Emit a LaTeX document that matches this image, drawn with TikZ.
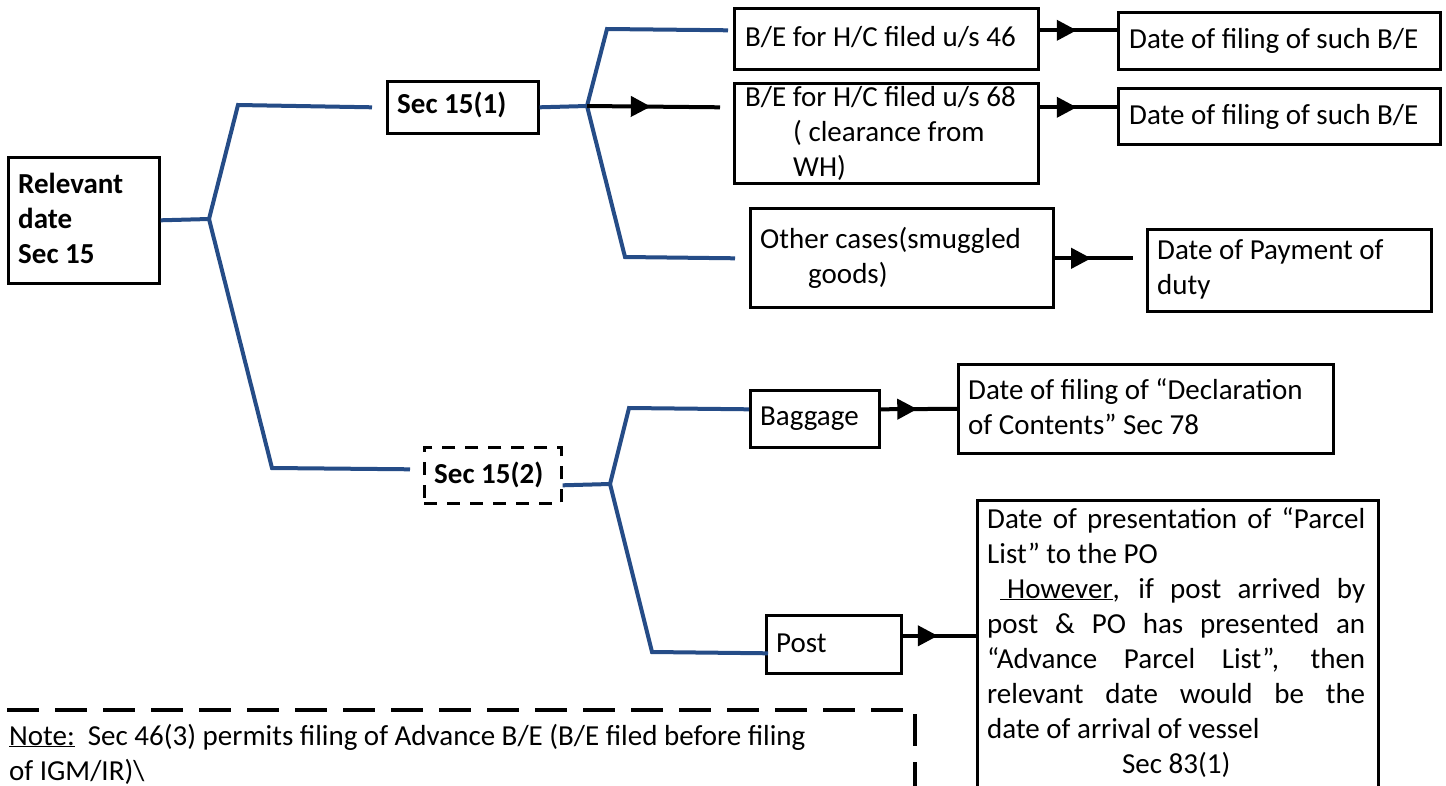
\documentclass[tikz,border=0pt]{standalone}
\usepackage{fontspec}
\setmainfont{Carlito}
\usetikzlibrary{calc,arrows.meta,decorations.markings}
\definecolor{linkblue}{RGB}{37,76,135}

\tikzset{
  box/.style={draw=black, line width=2.6pt, anchor=north west, inner sep=0pt},
  dashbox/.style={box, dash pattern=on 13pt off 10pt},
  txt/.style={anchor=base west, inner sep=0pt, font=\fontsize{29}{35}\selectfont},
  btxt/.style={txt, font=\fontsize{29}{35}\selectfont\bfseries},
  link/.style={draw=linkblue, line width=4pt},
  arr/.style={draw=black, line width=4pt,
    decoration={markings, mark=at position 0.48 with {\arrow{Triangle[length=20pt,width=20pt]}}},
    postaction={decorate}},
  notedash/.style={draw=black, line width=4.5pt, dash pattern=on 32pt off 16pt}
}

\begin{document}
\begin{tikzpicture}[x=1pt,y=-1pt]
\clip (0,0) rectangle (1446,785);
\fill[white] (0,0) rectangle (1446,785);

% boxes
\node[box, minimum width=151pt, minimum height=126pt] (rel) at (7,156) {};
\node[box, minimum width=151pt, minimum height=52pt] (s1) at (386,80) {};
\node[box, minimum width=304pt, minimum height=61pt] (be46) at (733,7) {};
\node[box, minimum width=304pt, minimum height=100pt] (be68) at (733,82) {};
\node[box, minimum width=303pt, minimum height=99pt] (oth) at (749,207) {};
\node[box, minimum width=322pt, minimum height=57pt] (d1) at (1117,11) {};
\node[box, minimum width=322pt, minimum height=56pt] (d2) at (1117,87) {};
\node[box, minimum width=284pt, minimum height=82pt] (pay) at (1146,228) {};
\node[dashbox, minimum width=137pt, minimum height=56pt] (s2) at (423,446) {};
\node[box, minimum width=129pt, minimum height=57pt] (bag) at (749,389) {};
\node[box, minimum width=375pt, minimum height=89pt] (decl) at (957,363) {};
\node[box, minimum width=135pt, minimum height=58pt] (post) at (765,614) {};
\node[box, minimum width=401pt, minimum height=320pt] (parcel) at (976,499) {};

% box texts
\node[btxt] (rel-t) at (18,193) {\parbox[t]{135pt}{Relevant\\date\\Sec 15}};
\node[btxt] (s1-t) at (397,113) {Sec 15(1)};
\node[txt] (be46-t) at (745,46) {B/E for H/C filed u/s 46};
\node[txt] (be68-t) at (745,106) {\parbox[t]{290pt}{B/E for H/C filed u/s 68\\\hspace*{48pt}( clearance from\\\hspace*{48pt}WH)}};
\node[txt] (oth-t) at (760,248) {\parbox[t]{290pt}{Other cases(smuggled\\\hspace*{48pt}goods)}};
\node[txt] (d1-t) at (1129,48) {Date of filing of such B/E};
\node[txt] (d2-t) at (1129,124) {Date of filing of such B/E};
\node[txt] (pay-t) at (1157,259) {\parbox[t]{265pt}{Date of Payment of\\duty}};
\node[btxt] (s2-t) at (434,483) {Sec 15(2)};
\node[txt] (bag-t) at (760,425) {Baggage};
\node[txt] (decl-t) at (968,399) {\parbox[t]{360pt}{Date of filing of “Declaration\\of Contents” Sec 78}};
\node[txt] (post-t) at (776,652) {Post};
\node[txt] (parcel-t) at (987,528) {\parbox[t]{378pt}{%
  \makebox[378pt][s]{Date of presentation of “Parcel}\\
  List” to the PO\\
  \makebox[378pt][s]{\hspace*{13pt}\underline{\hspace{7pt}However}, if post arrived by}\\
  \makebox[378pt][s]{post \& PO has presented an}\\
  \makebox[378pt][s]{“Advance Parcel List”, then}\\
  \makebox[378pt][s]{relevant date would be the}\\
  date of arrival of vessel\\
  \makebox[378pt][c]{Sec 83(1)}}};

% note
\draw[notedash] (7,710) -- (915,710) -- (915,800);
\node[txt] (note-t) at (9,745) {\parbox[t]{890pt}{\underline{Note:}\ \ Sec 46(3) permits filing of Advance B/E (B/E filed before filing\\of IGM/IR)\textbackslash}};

% tree connectors
\coordinate (j1) at (209,219);
\coordinate (j2) at (587,106);
\coordinate (j3) at (610,484);
\draw[link] (rel.east) -- (j1);
\draw[link] (j1) -- (238,105) -- ($(s1.west)+(-14,0)$);
\draw[link] (j1) -- (272,468) -- ($(s2.west)+(-13,-6)$);
\draw[link] (s1.east) -- (j2);
\draw[link] (j2) -- (607,29) -- ($(be46.west)+(-5,-8.5)$);
\draw[link] (j2) -- (625,257) -- ($(oth.west)+(-14,0.5)$);
\draw[link] ($(s2.east)+(0,10)$) -- (j3);
\draw[link] (j3) -- (629,408) -- ($(bag.west)+(0,-9.5)$);
\draw[link] (j3) -- (652,652) -- ($(post.west)+(3,9)$);

% arrows
\draw[arr] (j2) -- ($(be68.west)+(-13,-26)$);
\draw[arr] ($(be46.east)+(0,-8.5)$) -- ($(d1.west)+(0,-10.5)$);
\draw[arr] ($(be68.east)+(0,-26)$) -- ($(d2.west)+(0,-9)$);
\draw[arr] ($(oth.east)+(-2,0.5)$) -- ($(pay.west)+(-13,-12)$);
\draw[arr] ($(bag.east)+(0,-9.5)$) -- (decl.west);
\coordinate (p5) at ($(post.east)+(0,-8.5)$);
\draw[arr] (p5) -- (p5 -| parcel.west);
\end{tikzpicture}
\end{document}
